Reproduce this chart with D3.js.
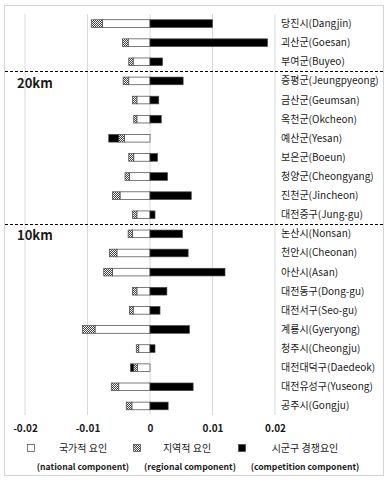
<!DOCTYPE html>
<html>
<head>
<meta charset="utf-8">
<script src="https://cdnjs.cloudflare.com/ajax/libs/d3/7.8.5/d3.min.js"></script>
<style>
  body { margin: 0; background: #fff; }
  svg text { font-family: "Noto Sans CJK KR", "Noto Sans", sans-serif; fill: #1a1a1a; }
</style>
</head>
<body>
<div id="chart"></div>
<script>
var regions = ["당진시(Dangjin)", "괴산군(Goesan)", "부여군(Buyeo)", "증평군(Jeungpyeong)",
  "금산군(Geumsan)", "옥천군(Okcheon)", "예산군(Yesan)", "보은군(Boeun)", "청양군(Cheongyang)",
  "진천군(Jincheon)", "대전중구(Jung-gu)", "논산시(Nonsan)", "천안시(Cheonan)", "아산시(Asan)",
  "대전동구(Dong-gu)", "대전서구(Seo-gu)", "계룡시(Gyeryong)", "청주시(Cheongju)",
  "대전대덕구(Daedeok)", "대전유성구(Yuseong)", "공주시(Gongju)"];
var national = [-0.0076, -0.0035, -0.0027, -0.0034, -0.0021, -0.0021, -0.0041, -0.0026, -0.0033,
  -0.0048, -0.0021, -0.0028, -0.0053, -0.0060, -0.0021, -0.0027, -0.0088, -0.0018, -0.0020, -0.0050, -0.0029];
var regional = [-0.0018, -0.0009, -0.0007, -0.0009, -0.0007, -0.0005, -0.0009, -0.0008, -0.0007,
  -0.0012, -0.0007, -0.0007, -0.0012, -0.0014, -0.0007, -0.0006, -0.0020, -0.0004, -0.0006, -0.0012, -0.0009];
var competition = [0.0100, 0.0188, 0.0020, 0.0053, 0.0014, 0.0018, -0.0016, 0.0012, 0.0028,
  0.0066, 0.0008, 0.0052, 0.0061, 0.0120, 0.0027, 0.0016, 0.0063, 0.0008, -0.0005, 0.0069, 0.0029];
var ticks = [-0.02, -0.01, 0, 0.01, 0.02];
var legendKo = ["국가적 요인", "지역적 요인", "시군구 경쟁요인"];
var legendEn = ["(national component)", "(regional component)", "(competition component)"];
var zones = ["20km", "10km"];

var width = 386, height = 481;
var keys = ["national", "regional", "competition"];
var rows = regions.map(function(r, i) {
  return { region: r, national: national[i], regional: regional[i], competition: competition[i] };
});

var svg = d3.select("#chart").append("svg")
  .attr("width", width)
  .attr("height", height);

// fine diagonal hatch for the regional component
var defs = svg.append("defs");
var pat = defs.append("pattern")
  .attr("id", "hatch")
  .attr("width", 2)
  .attr("height", 2)
  .attr("patternUnits", "userSpaceOnUse");
pat.append("rect").attr("width", 2).attr("height", 2).attr("fill", "#fff");
pat.append("path")
  .attr("d", "M-0.5,0.5 L0.5,-0.5 M0,2 L2,0 M1.5,2.5 L2.5,1.5")
  .attr("stroke", "#111")
  .attr("stroke-width", 0.8);

// outer frame
svg.append("rect")
  .attr("x", 4.5).attr("y", 5.5)
  .attr("width", 379).attr("height", 470)
  .attr("fill", "none")
  .attr("stroke", "#d4d4d4");

var x = d3.scaleLinear().domain([-0.02, 0.02]).range([25, 275]);
var y = d3.scaleBand().domain(regions).range([14, 415.5]).paddingInner(0.6).paddingOuter(0.3);

// gridlines
svg.append("g")
  .selectAll("line")
  .data(ticks)
  .enter().append("line")
  .attr("x1", function(d) { return x(d); })
  .attr("x2", function(d) { return x(d); })
  .attr("y1", 14).attr("y2", 415)
  .attr("stroke", "#d9d9d9")
  .attr("stroke-width", 1);

var series = d3.stack().keys(keys).offset(d3.stackOffsetDiverging)(rows);
var fills = { national: "#fff", regional: "url(#hatch)", competition: "#000" };

svg.append("g")
  .selectAll("g")
  .data(series)
  .enter().append("g")
  .attr("fill", function(d) { return fills[d.key]; })
  .selectAll("rect")
  .data(function(d) { return d; })
  .enter().append("rect")
  .attr("x", function(d) { return x(Math.min(d[0], d[1])); })
  .attr("width", function(d) { return Math.abs(x(d[1]) - x(d[0])); })
  .attr("y", function(d) { return y(d.data.region); })
  .attr("height", y.bandwidth())
  .attr("stroke", "#444")
  .attr("stroke-width", 0.7);

// region labels
svg.append("g")
  .selectAll("text")
  .data(regions)
  .enter().append("text")
  .attr("x", 281)
  .attr("y", function(d) { return y(d) + y.bandwidth() / 2; })
  .attr("dy", "0.35em")
  .attr("font-size", 10)
  .text(function(d) { return d; });

// dashed separators between distance zones
var step = y.step();
[2, 10].forEach(function(i) {
  var yy = Math.round(y(regions[i]) + y.bandwidth() + (step - y.bandwidth()) / 2) + 0.5;
  svg.append("line")
    .attr("x1", 5).attr("x2", 383)
    .attr("y1", yy).attr("y2", yy)
    .attr("stroke", "#000")
    .attr("stroke-dasharray", "3,2");
});

svg.selectAll(".zone")
  .data(zones)
  .enter().append("text")
  .attr("class", "zone")
  .attr("x", 17)
  .attr("y", function(d, i) { return [88, 240][i]; })
  .attr("font-size", 13)
  .attr("font-weight", "bold")
  .text(function(d) { return d; });

// x axis labels
var axis = d3.axisBottom(x).tickValues(ticks).tickSize(0).tickFormat(function(d) { return d === 0 ? "0" : d; });
var gx = svg.append("g")
  .attr("transform", "translate(0,422)")
  .call(axis);
gx.select(".domain").remove();
gx.selectAll("text")
  .attr("font-size", 10)
  .attr("font-weight", "bold")
  .attr("font-family", "'Noto Sans CJK KR', 'Noto Sans', sans-serif")
  .style("fill", "#1a1a1a");

// legend
var legX = [31, 137, 242];
var legTextX = [83, 187, 305];
var legFill = ["#fff", "url(#hatch)", "#000"];
var leg = svg.append("g");
leg.selectAll("rect")
  .data(legFill)
  .enter().append("rect")
  .attr("x", function(d, i) { return legX[i] - 3.5; })
  .attr("y", 444.5)
  .attr("width", 7).attr("height", 7)
  .attr("fill", function(d) { return d; })
  .attr("stroke", "#444")
  .attr("stroke-width", 0.7);
leg.selectAll(".ko")
  .data(legendKo)
  .enter().append("text")
  .attr("class", "ko")
  .attr("x", function(d, i) { return legTextX[i]; })
  .attr("y", 448)
  .attr("dy", "0.35em")
  .attr("text-anchor", "middle")
  .attr("font-size", 10)
  .text(function(d) { return d; });
leg.selectAll(".en")
  .data(legendEn)
  .enter().append("text")
  .attr("class", "en")
  .attr("x", function(d, i) { return [83, 190, 305][i]; })
  .attr("y", 467)
  .attr("dy", "0.35em")
  .attr("text-anchor", "middle")
  .attr("font-size", 8.6)
  .attr("font-weight", "bold")
  .text(function(d) { return d; });
</script>
</body>
</html>
